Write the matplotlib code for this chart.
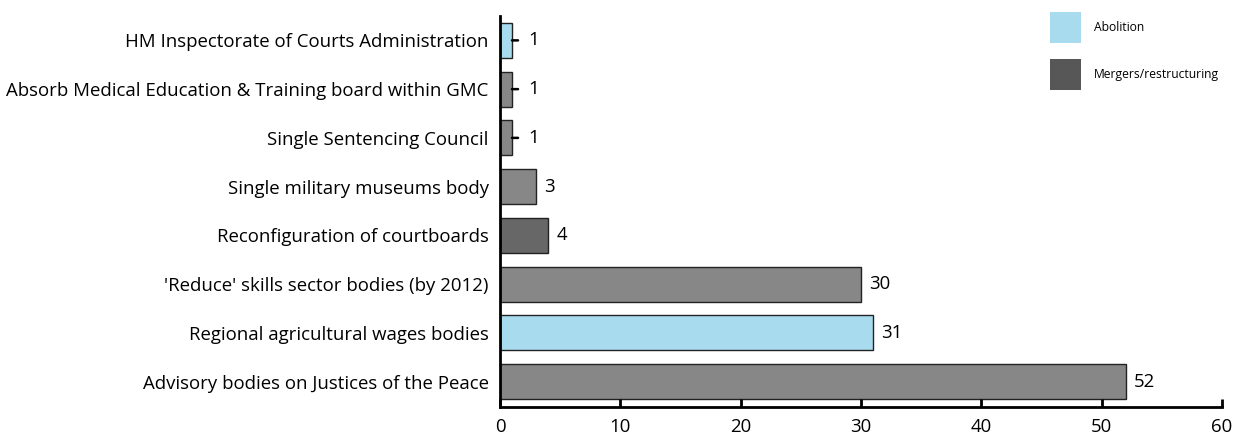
import matplotlib.pyplot as plt
from matplotlib.patches import Patch

plt.rcParams['font.family'] = ['Open Sans', 'DejaVu Sans']

# bottom to top
bodies = ["Advisory bodies on Justices of the Peace",
          "Regional agricultural wages bodies",
          "'Reduce' skills sector bodies (by 2012)",
          "Reconfiguration of courtboards",
          "Single military museums body",
          "Single Sentencing Council",
          "Absorb Medical Education & Training board within GMC",
          "HM Inspectorate of Courts Administration"]
counts = [52, 31, 30, 4, 3, 1, 1, 1]
bar_colors = ["#878787", "#a8dbee", "#878787", "#676767",
              "#878787", "#878787", "#878787", "#a8dbee"]
legend_labels = ["Abolition", "Mergers/restructuring"]
legend_colors = ["#a8dbee", "#575757"]

fig = plt.figure(figsize=(12.36, 4.41), dpi=100)
ax = fig.add_axes([0.4045, 0.0771, 0.5842, 0.8866])

pos = list(range(len(bodies)))
ax.barh(pos, counts, height=0.72, color=bar_colors, edgecolor="#222222", linewidth=1)

for i, v in enumerate(counts):
    if v == 1:
        # small dash next to the thin bars
        ax.annotate("", (v, i), xytext=(v + 0.5, i),
                    arrowprops=dict(arrowstyle="-", lw=1.8, color="black",
                                    shrinkA=0, shrinkB=0))
        ax.annotate(str(v), (v, i), xytext=(12, 0), textcoords="offset points",
                    va="center", ha="left", fontsize=13.4)
    else:
        ax.annotate(str(v), (v, i), xytext=(6, 0), textcoords="offset points",
                    va="center", ha="left", fontsize=13.4)

ax.set_xlim(0, 60)
ax.set_ylim(-0.52, 7.5)
ax.set_xticks([0, 10, 20, 30, 40, 50, 60])
ax.set_yticks(pos)
ax.set_yticklabels(bodies)
ax.tick_params(axis="y", length=0, pad=8, labelsize=13.4)
ax.tick_params(axis="x", direction="in", length=6, width=2, pad=8, labelsize=13.4)
for s in ["top", "right"]:
    ax.spines[s].set_visible(False)
ax.spines["left"].set_linewidth(2)
ax.spines["bottom"].set_linewidth(2)

handles = [Patch(facecolor=c, edgecolor="none") for c in legend_colors]
fig.legend(handles, legend_labels, loc="upper left", bbox_to_anchor=(0.8495, 0.9728),
           frameon=False, fontsize=8.7, handlelength=2.57, handleheight=3.57,
           labelspacing=1.33, handletextpad=1.1, borderpad=0, borderaxespad=0)

fig.savefig("out.png", dpi=100)
